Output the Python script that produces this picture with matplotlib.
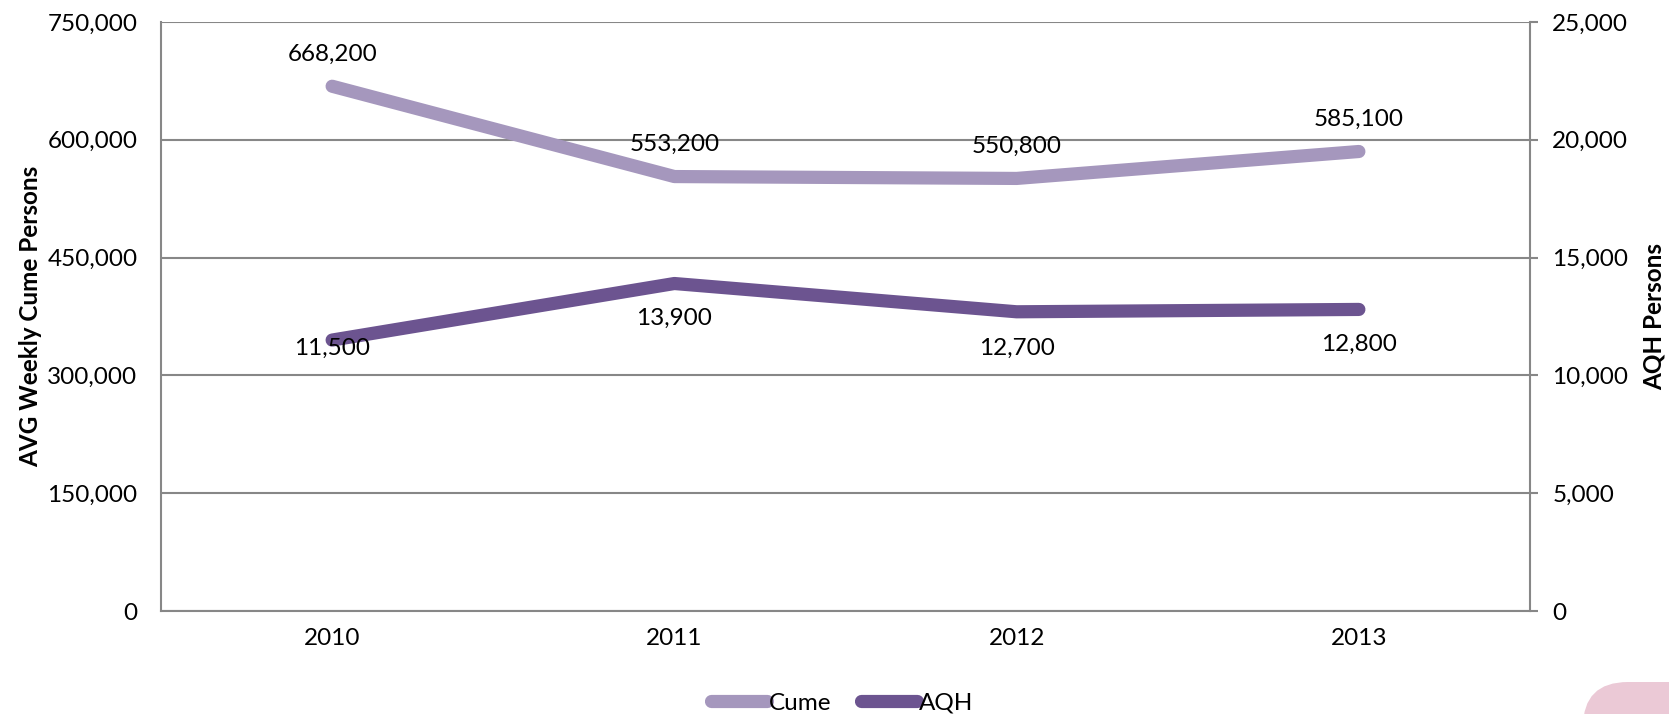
import numpy as np
import matplotlib.pyplot as plt
from matplotlib.patches import FancyBboxPatch
from matplotlib.ticker import FuncFormatter, MultipleLocator
from matplotlib.transforms import IdentityTransform

years = ["2010", "2011", "2012", "2013"]
cume = [668200, 553200, 550800, 585100]
aqh = [11500, 13900, 12700, 12800]

cume_color = "#A597BD"
aqh_color = "#6C5490"
grid_color = "#878787"
fs = 17.5

plt.rcParams["font.family"] = ["Lato", "DejaVu Sans"]

W, H = 1669, 714
fig = plt.figure(figsize=(W / 100, H / 100), dpi=100)
ax = fig.add_axes([161 / W, 1 - 611 / H, (1530 - 161) / W, (611 - 22) / H])
ax2 = ax.twinx()

x = np.arange(len(years))
fmt = FuncFormatter(lambda v, p: f"{int(v):,}")

# left axis: cume persons
ax.set_xlim(-0.5, len(years) - 0.5)
ax.set_ylim(0, 750000)
ax.yaxis.set_major_locator(MultipleLocator(150000))
ax.yaxis.set_major_formatter(fmt)
ax.grid(axis="y", color=grid_color, linewidth=1.5)
ax.set_axisbelow(True)
ax.set_xticks(x)
ax.set_xticklabels(years)
ax.tick_params(axis="both", length=0, labelsize=fs, pad=12, colors="black")
ax.tick_params(axis="y", pad=17)
for side in ["top", "right"]:
    ax.spines[side].set_visible(False)
for side in ["left", "bottom"]:
    ax.spines[side].set_color(grid_color)
    ax.spines[side].set_linewidth(1.5)
ax.set_ylabel("AVG Weekly Cume Persons", fontsize=fs, fontweight="bold")
ax.yaxis.set_label_coords(-0.087, 0.5)

# right axis: AQH persons
ax2.set_ylim(0, 25000)
ax2.yaxis.set_major_locator(MultipleLocator(5000))
ax2.yaxis.set_major_formatter(fmt)
ax2.tick_params(axis="y", length=6, width=1.5, color=grid_color, labelsize=fs, pad=10)
for side in ["top", "left", "bottom"]:
    ax2.spines[side].set_visible(False)
ax2.spines["right"].set_color(grid_color)
ax2.spines["right"].set_linewidth(1.5)
ax2.set_ylabel("AQH Persons", fontsize=fs, fontweight="bold")
ax2.yaxis.set_label_coords(1.082, 0.5)

l1, = ax.plot(x, cume, color=cume_color, linewidth=9.5, solid_capstyle="round",
              solid_joinstyle="round", label="Cume")
l2, = ax2.plot(x, aqh, color=aqh_color, linewidth=9.5, solid_capstyle="round",
               solid_joinstyle="round", label="AQH")

for xi, v in zip(x, cume):
    ax.annotate(f"{v:,}", (xi, v), xytext=(0, 23), textcoords="offset points",
                ha="center", va="center", fontsize=fs)
aqh_offsets = [-6, -25, -26, -25]
for xi, v, off in zip(x, aqh, aqh_offsets):
    ax2.annotate(f"{v:,}", (xi, v), xytext=(0, off), textcoords="offset points",
                 ha="center", va="center", fontsize=fs)

fig.legend(handles=[l1, l2], loc="center", bbox_to_anchor=(842 / W, 1 - 703 / H),
           ncol=2, frameon=False, fontsize=fs, handlelength=2.3, handletextpad=0.1,
           columnspacing=1.2)

# pink rounded shape peeking in at the lower right corner (pixel coords)
fig.patches.append(FancyBboxPatch((1583, -60), 200, 60 + (H - 682),
                                  boxstyle="round,pad=0,rounding_size=45",
                                  transform=IdentityTransform(), facecolor="#EBC9D6",
                                  edgecolor="none", zorder=-1))

fig.savefig("out.png", dpi=100)
